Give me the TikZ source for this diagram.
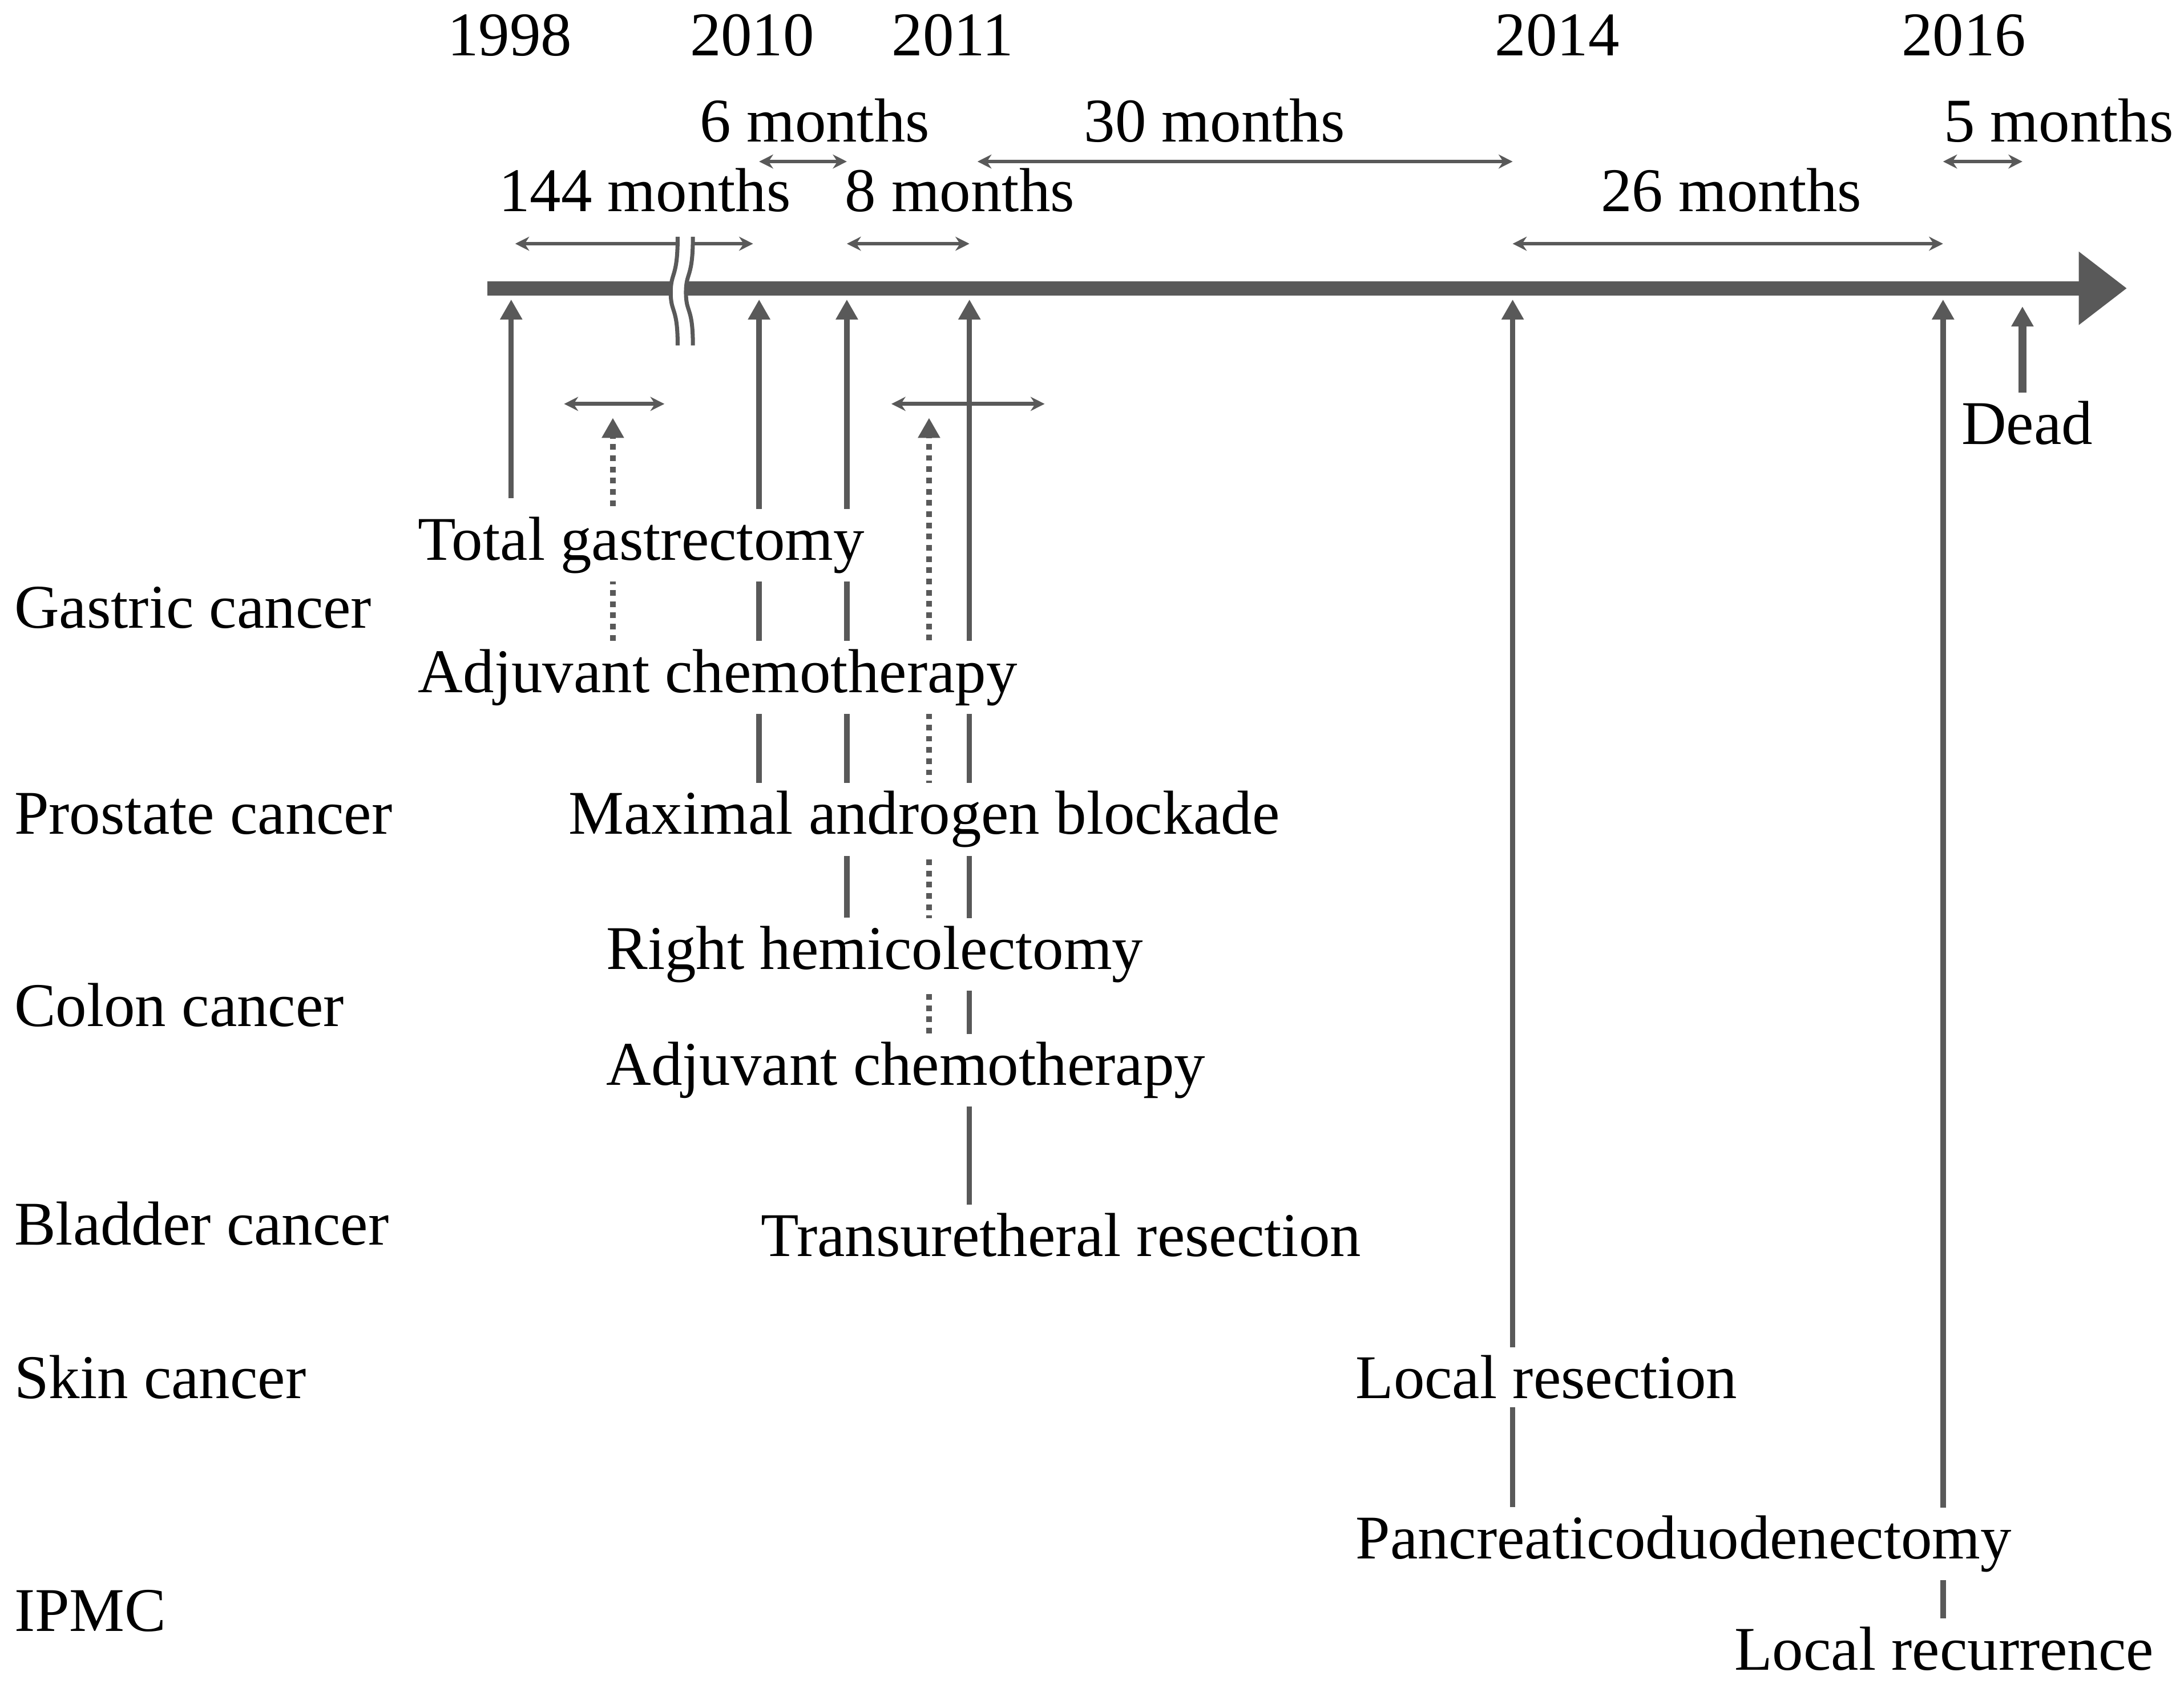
\documentclass[tikz,border=0pt]{standalone}
\usepackage{fontspec}
\setmainfont{Liberation Serif}
\usetikzlibrary{arrows.meta,backgrounds}
\definecolor{lineGray}{RGB}{89,89,89}

\begin{document}
\begin{tikzpicture}[x=0.024407cm, y=-0.024407cm,
  every node/.style={font=\fontsize{31}{37}\selectfont, inner xsep=0pt, inner ysep=4pt},
  lbl/.style={anchor=base west, fill=white},
  yr/.style={anchor=base},
  axisline/.style={draw=lineGray, line width=7pt, -{Triangle[length=24pt,width=35pt]}},
  evt/.style={draw=lineGray, line width=2.7pt, -{Triangle[length=10pt,width=10.5pt]}},
  span/.style={draw=lineGray, line width=1.9pt, {Stealth[length=7pt,width=7pt]}-{Stealth[length=7pt,width=7pt]}},
  dotarrow/.style={draw=lineGray, line width=2.7pt, dash pattern=on 2.8pt off 2.8pt, -{Triangle[length=10pt,width=10.5pt]}}]
  \useasboundingbox (0,0) rectangle (1568,1209);

  \node (y1998) [yr] at (366,40) {1998};
  \node (y2010) [yr] at (540,40) {2010};
  \node (y2011) [yr] at (684,40) {2011};
  \node (y2014) [yr] at (1118,40) {2014};
  \node (y2016) [yr] at (1410,40) {2016};

  \node (m6) [yr] at (585,102) {6 months};
  \node (m30) [yr] at (872,102) {30 months};
  \node (m5) [yr] at (1478,102) {5 months};
  \node (m144) [yr] at (463,152) {144 months};
  \node (m8) [yr] at (689,152) {8 months};
  \node (m26) [yr] at (1243,152) {26 months};

  \node (gastric) [lbl] at (10,451) {Gastric cancer};
  \node (prostate) [lbl] at (10,599) {Prostate cancer};
  \node (colon) [lbl] at (10,737) {Colon cancer};
  \node (bladder) [lbl] at (10,894) {Bladder cancer};
  \node (skin) [lbl] at (10,1004) {Skin cancer};
  \node (ipmc) [lbl] at (10,1171) {IPMC};

  \node (tg) [lbl] at (300,402) {Total gastrectomy};
  \node (ac1) [lbl] at (300,497) {Adjuvant chemotherapy};
  \node (mab) [lbl] at (408,599) {Maximal androgen blockade};
  \node (rh) [lbl] at (435,696) {Right hemicolectomy};
  \node (ac2) [lbl] at (435,779) {Adjuvant chemotherapy};
  \node (tur) [lbl] at (546,902) {Transuretheral resection};
  \node (lres) [lbl] at (973,1004) {Local resection};
  \node (pd) [lbl] at (973,1119) {Pancreaticoduodenectomy};
  \node (lrec) [lbl] at (1245,1199) {Local recurrence};
  \node (dead) [lbl] at (1408,319) {Dead};

  \coordinate (ax0) at (350,207);
  \coordinate (ax1) at (1527,207);
  \coordinate (e98) at (367,215);
  \coordinate (e10) at (545,215);
  \coordinate (e10b) at (608,215);
  \coordinate (e11) at (696,215);
  \coordinate (e14) at (1086,215);
  \coordinate (e16) at (1395,215);
  \coordinate (edead) at (1452,220);
  \coordinate (rowTop) at (0,116);
  \coordinate (rowMid) at (0,175);
  \coordinate (g1) at (405,290);
  \coordinate (g2) at (477,290);
  \coordinate (c1) at (640,290);
  \coordinate (c2) at (750,290);
  \coordinate (gtip) at (440,300);
  \coordinate (ctip) at (667,300);

  \begin{scope}[on background layer]
    \draw[axisline] (ax0) -- (ax1);
    \draw[evt, shorten <=5pt] (tg.north -| e98) -- (e98);
    \draw[evt] (mab.north -| e10) -- (e10);
    \draw[evt] (rh.north -| e10b) -- (e10b);
    \draw[evt] (tur.north -| e11) -- (e11);
    \draw[evt] (pd.north -| e14) -- (e14);
    \draw[evt] (lrec.north -| e16) -- (e16);
    \draw[evt, line width=4pt] (dead.north -| edead) -- (edead);
    \draw[dotarrow] (ac1.north -| gtip) -- (gtip);
    \draw[dotarrow] (ac2.north -| ctip) -- (ctip);
    \draw[span, shorten <=2pt, shorten >=3pt] (e98 |- rowMid) -- (e10 |- rowMid);
    \draw[span] (e10 |- rowTop) -- (e10b |- rowTop);
    \draw[span] (e10b |- rowMid) -- (e11 |- rowMid);
    \draw[span, shorten <=4pt] (e11 |- rowTop) -- (e14 |- rowTop);
    \draw[span] (e14 |- rowMid) -- (e16 |- rowMid);
    \draw[span] (e16 |- rowTop) -- (edead |- rowTop);
    \draw[span] (g1) -- (g2);
    \draw[span] (c1) -- (c2);
  \end{scope}

  \draw[white, line width=6pt] (492,170) .. controls (492,200) and (487,195) .. (487,210) .. controls (487,225) and (492,220) .. (492,248);
  \draw[lineGray, line width=2pt, xshift=-3.8pt] (492,170) .. controls (492,200) and (487,195) .. (487,210) .. controls (487,225) and (492,220) .. (492,248);
  \draw[lineGray, line width=2pt, xshift=3.8pt] (492,170) .. controls (492,200) and (487,195) .. (487,210) .. controls (487,225) and (492,220) .. (492,248);
\end{tikzpicture}
\end{document}
